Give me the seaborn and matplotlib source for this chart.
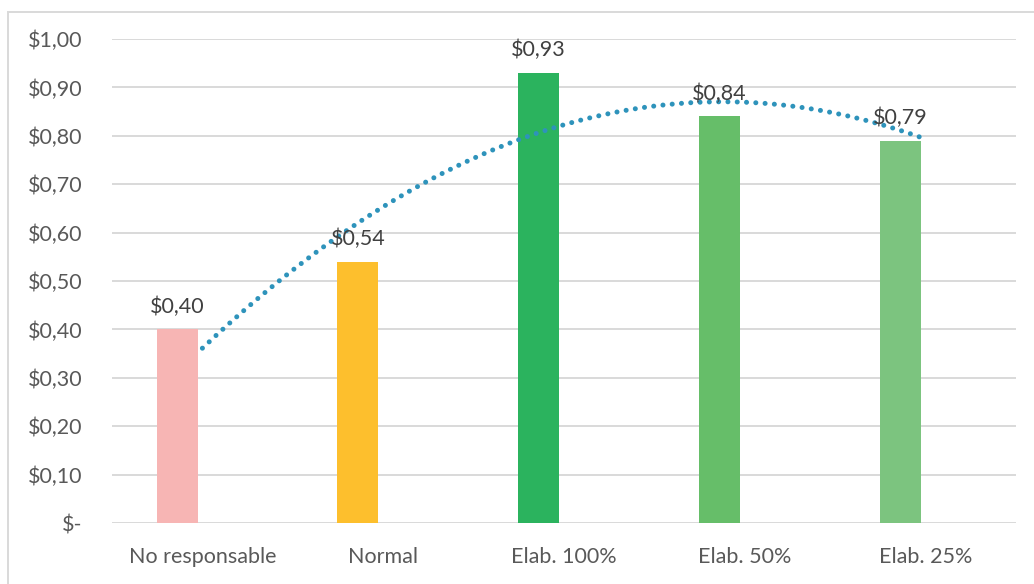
import matplotlib.pyplot as plt
import numpy as np
import pandas as pd
import seaborn as sns
from matplotlib.patches import Rectangle

categories = ["No responsable", "Normal", "Elab. 100%", "Elab. 50%", "Elab. 25%"]
values = [0.40, 0.54, 0.93, 0.84, 0.79]
bar_colors = ["#F7B5B4", "#FDBF2D", "#2BB35E", "#66BE69", "#7CC47F"]
yticks = [0.0, 0.1, 0.2, 0.3, 0.4, 0.5, 0.6, 0.7, 0.8, 0.9, 1.0]


def money(v):
    if v == 0:
        return "\\$-"
    return "\\$" + f"{v:.2f}".replace(".", ",")


df = pd.DataFrame({"cat": categories, "value": values})

sns.set_style("white")
plt.rcParams["font.family"] = ["Lato", "DejaVu Sans"]

fig = plt.figure(figsize=(10.34, 5.84), dpi=100)
ax = fig.add_axes([112 / 1034, 61 / 584, 904 / 1034, 484 / 584])

# horizontal gridlines drawn under the bars
for t in yticks:
    ax.axhline(t, color="#D9D9D9", lw=1.4, zorder=0)

sns.barplot(
    data=df,
    x="cat",
    y="value",
    hue="cat",
    palette=bar_colors,
    width=0.227,
    legend=False,
    saturation=1,
    ax=ax,
    zorder=2,
)

# bars sit a bit left of the category centre, like the excel chart
shift = 0.14
for p in ax.patches:
    p.set_x(p.get_x() - shift)
    p.set_linewidth(0)

for i, v in enumerate(values):
    ax.annotate(
        money(v),
        xy=(i - shift, v),
        xytext=(0, 9),
        textcoords="offset points",
        ha="center",
        va="bottom",
        fontsize=15.5,
        color="#404040",
        zorder=5,
    )

# polynomial (order 2) trendline of the bar values
xs = np.arange(len(values))
coef = np.polyfit(xs, values, 2)
x_fit = np.linspace(0, len(values) - 1, 200)
trend = pd.DataFrame({"x": x_fit, "y": np.polyval(coef, x_fit)})
sns.lineplot(data=trend, x="x", y="y", color="#2E93BB", lw=3.6, ax=ax, zorder=4)
ln = ax.lines[-1]
ln.set_dashes((0.01, 1.85))
ln.set_dash_capstyle("round")

ax.set_xlim(-0.5, 4.5)
ax.set_ylim(0, 1.0)
ax.set_yticks(yticks)
ax.set_yticklabels([money(t) for t in yticks])
ax.set_xticks(range(len(categories)))
ax.set_xticklabels(categories)
ax.tick_params(axis="y", length=0, pad=21, labelsize=15.5, labelcolor="#595959")
ax.tick_params(axis="x", length=0, pad=17, labelsize=15.5, labelcolor="#595959")
ax.set_xlabel("")
ax.set_ylabel("")
for s in ax.spines.values():
    s.set_visible(False)

# outer chart border
fig.patches.append(
    Rectangle(
        (8 / 1034, -0.1),
        1.2,
        (572 / 584) + 0.1,
        transform=fig.transFigure,
        fill=False,
        edgecolor="#D9D9D9",
        lw=1.4,
    )
)

fig.savefig("out.png", dpi=100)
